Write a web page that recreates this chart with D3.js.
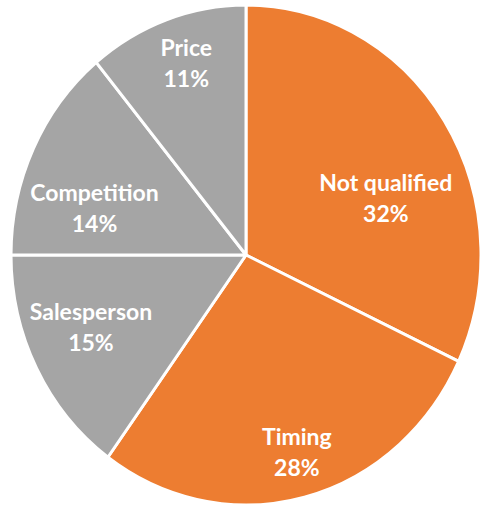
<!DOCTYPE html>
<html>
<head>
<meta charset="utf-8">
<script src="https://cdn.jsdelivr.net/npm/d3@7"></script>
<style>
  body { margin: 0; background: #fff; }
  svg { display: block; }
</style>
</head>
<body>
<div id="main"></div>
<script>
// data
const categories = ["Not qualified", "Timing", "Salesperson", "Competition", "Price"];
const shares = [32, 28, 15, 14, 11];
const sliceColors = ["#ED7D31", "#ED7D31", "#A5A5A5", "#A5A5A5", "#A5A5A5"];

const ctx = {
    width: 480,
    height: 510,
    cx: 246,
    cy: 255,
    rx: 235,
    ry: 250,
};

// label nudges so text sits where Excel put it (px)
const labelNudge = {
    "Not qualified": [-9, 43],
    "Timing": [7, 15],
    "Salesperson": [2, -14],
    "Competition": [8, 32],
    "Price": [0, -16],
};

function createViz() {
    let svg = d3.select("#main").append("svg")
        .attr("width", ctx.width)
        .attr("height", ctx.height);

    const pie = d3.pie().sort(null).value(d => d.value);
    const arcs = pie(categories.map((c, i) => ({ name: c, value: shares[i], color: sliceColors[i] })));

    const arc = d3.arc().innerRadius(0).outerRadius(ctx.ry);
    const labelArc = d3.arc().innerRadius(ctx.ry * 0.75).outerRadius(ctx.ry * 0.75);
    const sx = ctx.rx / ctx.ry;

    let g = svg.append("g")
        .attr("transform", `translate(${ctx.cx},${ctx.cy}) scale(${sx},1)`);

    g.selectAll("path")
        .data(arcs)
        .enter().append("path")
        .attr("d", arc)
        .attr("fill", d => d.data.color)
        .attr("stroke", "#fff")
        .attr("stroke-width", 3)
        .attr("stroke-linejoin", "round")
        .attr("vector-effect", "non-scaling-stroke");

    let labels = svg.append("g")
        .attr("transform", `translate(${ctx.cx},${ctx.cy})`)
        .selectAll("text")
        .data(arcs)
        .enter().append("text")
        .attr("text-anchor", "middle")
        .attr("fill", "#fff")
        .style("font-family", "Lato, 'Open Sans', sans-serif")
        .style("font-weight", "bold")
        .style("font-size", "23px")
        .attr("transform", d => {
            const c = labelArc.centroid(d);
            const n = labelNudge[d.data.name];
            return `translate(${c[0] * sx + n[0]},${c[1] + n[1]})`;
        });

    labels.append("tspan")
        .attr("x", 0)
        .attr("y", -15.5)
        .attr("dominant-baseline", "central")
        .text(d => d.data.name);

    labels.append("tspan")
        .attr("x", 0)
        .attr("y", 15.5)
        .attr("dominant-baseline", "central")
        .text(d => d.data.value + "%");
}

createViz();
</script>
</body>
</html>
